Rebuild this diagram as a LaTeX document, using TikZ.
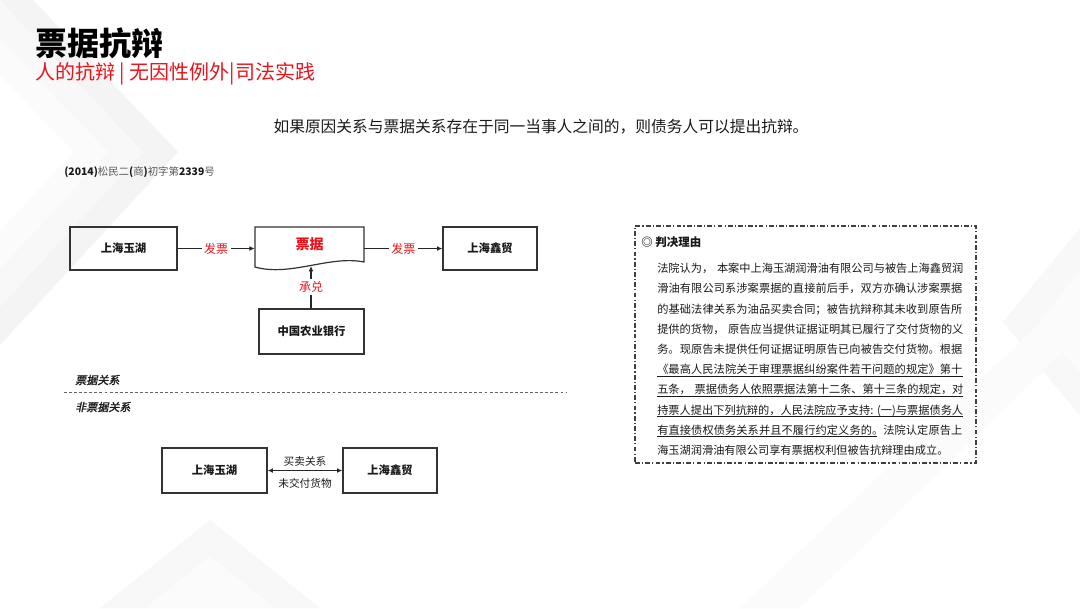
\documentclass[tikz,border=0pt]{standalone}
\usepackage{fontspec}
\setmainfont{Noto Sans CJK SC}
\newfontfamily\cjk{Noto Sans CJK SC}
\newfontfamily\cjkit[FakeSlant=0.2,FakeBold=1.5]{Noto Sans CJK SC}
\usetikzlibrary{arrows.meta}
\definecolor{jred}{HTML}{E8141B}
\definecolor{txt}{HTML}{1A1A1A}
\definecolor{bgA}{HTML}{F4F4F4}
\definecolor{bgB}{HTML}{F8F8F8}
\definecolor{bgC}{HTML}{FBFBFB}
\tikzset{
  entbox/.style={draw=black!80, line width=0.9pt, inner sep=0pt, text=txt,
    font=\cjk\bfseries\fontsize{8.5}{10}\selectfont},
  redlab/.style={font=\cjk\fontsize{9}{10}\selectfont, text=jred, fill=white, inner sep=2pt},
  arr/.style={line width=0.8pt, draw=black!85, -{Latex[length=4pt,width=3.6pt]}},
  darr/.style={line width=0.8pt, draw=black!85, {Latex[length=4pt,width=3.6pt]}-{Latex[length=4pt,width=3.6pt]}},
  smalllab/.style={font=\cjk\fontsize{8}{9}\selectfont, text=txt, inner sep=1pt},
  seclab/.style={font=\cjkit\fontsize{8.3}{9}\selectfont, anchor=west, inner sep=0pt, text=txt},
  divider/.style={line width=0.7pt, draw=black!60, dash pattern=on 2.2pt off 1.6pt},
  reasonbox/.style={draw=black!75, line width=0.8pt, inner sep=0pt,
    dash pattern=on 3.6pt off 1.6pt on 0.9pt off 1.6pt},
}
\begin{document}
\begin{tikzpicture}[x=0.75pt,y=-0.75pt]
\useasboundingbox (0,0) rectangle (1080,608);
\fill[white] (0,0) rectangle (1080,608);
% faint background chevrons
\begin{scope}
\clip (0,0) rectangle (1080,608);
\fill[bgA] (33,0) -- (178,152) -- (0,345) -- (0,0) -- cycle;
\fill[bgB] (0,0) -- (143,152) -- (-35,345) -- (-35,0) -- cycle;
\fill[bgC] (-37,0) -- (108,152) -- (-70,345) -- (-70,0) -- cycle;
\fill[white] (-72,0) -- (73,152) -- (-105,345) -- (-105,0) -- cycle;
\fill[bgB] (100,608) -- (210,520) -- (320,608) -- cycle;
\fill[bgC] (145,608) -- (210,556) -- (275,608) -- cycle;
\fill[bgB] (1080,228) -- (1003,322) -- (1080,416) -- cycle;
\fill[bgC] (1080,270) -- (1040,322) -- (1080,374) -- cycle;
\fill[bgC] (740,608) -- (1080,285) -- (1080,335) -- (800,608) -- cycle;
\end{scope}

% titles
\node[anchor=west, inner sep=0pt, text=black, font=\cjk\bfseries\fontsize{24}{26}\selectfont] (title) at (35,43) {票据抗辩};
\node[anchor=west, inner sep=0pt, text=jred, font=\cjk\fontsize{15}{17}\selectfont] (sub) at (35,74) {人的抗辩 | 无因性例外|司法实践};
\node[inner sep=0pt, text=txt, font=\cjk\fontsize{11.8}{13}\selectfont] (lead) at (541,127) {如果原因关系与票据关系存在于同一当事人之间的，则债务人可以提出抗辩。};
\node[anchor=west, inner sep=0pt, text=txt, font=\cjk\fontsize{7.8}{9}\selectfont] (case) at (64,172)
  {\textbf{(2014)}{\color{black!65}松民二}\textbf{(}{\color{black!65}商}\textbf{)}{\color{black!65}初字第}\textbf{2339}{\color{black!65}号}};

% upper diagram
\node[entbox, minimum width=80.25pt, minimum height=32.25pt] (a1) at (123.5,248.5) {上海玉湖};
\node[entbox, minimum width=70.5pt, minimum height=32.25pt] (a2) at (490,248.5) {上海鑫贸};
\node[entbox, minimum width=78.75pt, minimum height=33.75pt] (bank) at (311.5,331.5) {中国农业银行};
\draw[draw=black!80, line width=0.9pt] (255,267) -- (255,227) -- (364,227) -- (364,262)
   .. controls (330,255) and (290,277) .. (255,267) -- cycle;
\node[inner sep=0pt, minimum width=81.75pt, minimum height=26.25pt, text=jred,
      font=\cjk\bfseries\fontsize{10.5}{12}\selectfont] (doc) at (309.5,244.5) {票据};
\coordinate (docb) at (311,266);
\draw[arr] (a1.east) -- node[redlab]{发票} (a1.east -| doc.west);
\draw[arr] (doc.east |- a2.west) -- node[redlab]{发票} (a2.west);
\draw[arr] (bank.north -| docb) -- node[redlab]{承兑} (docb);

% divider
\node[seclab] (l1) at (75,380) {票据关系};
\coordinate (dl) at (64,392);
\coordinate (dr) at (567,392);
\draw[divider] (dl) -- (dr);
\node[seclab] (l2) at (75,407) {非票据关系};

% lower diagram
\node[entbox, minimum width=78.75pt, minimum height=33.75pt] (c1) at (214.5,470.5) {上海玉湖};
\node[entbox, minimum width=70.5pt, minimum height=33.75pt] (c2) at (390,470.5) {上海鑫贸};
\draw[darr] (c1.east) -- node[smalllab, above=1.5pt]{买卖关系} node[smalllab, below=4.5pt]{未交付货物} (c2.west);

% reasoning box
\node[reasonbox, minimum width=255.75pt, minimum height=177.75pt] (reason) at (805.5,344.5) {};
\node[anchor=west, inner sep=0pt, text=txt, font=\cjk\bfseries\fontsize{8.6}{10}\selectfont] (rtitle) at (641,242) {◎ 判决理由};
\node[anchor=north west, inner sep=0pt, text width=229.5pt, text=txt,
      font=\cjk\fontsize{8.4}{15.15}\selectfont] (para) at (657,263)
{\XeTeXlinebreaklocale "zh"\XeTeXlinebreakskip=0pt plus 2pt\XeTeXlinebreakpenalty=10000
\parindent=0pt\parfillskip=0pt\relax
法院认为，~本案中上海玉湖润滑油有限公司与被告上海鑫贸润\par
滑油有限公司系涉案票据的直接前后手，双方亦确认涉案票据\par
的基础法律关系为油品买卖合同；被告抗辩称其未收到原告所\par
提供的货物，~原告应当提供证据证明其已履行了交付货物的义\par
务。现原告未提供任何证据证明原告已向被告交付货物。根据\par
《最高人民法院关于审理票据纠纷案件若干问题的规定》第十\par
五条，~票据债务人依照票据法第十二条、第十三条的规定，对\par
持票人提出下列抗辩的，人民法院应予支持:~(一)与票据债务人\par
有直接债权债务关系并且不履行约定义务的。法院认定原告上\par
\parfillskip=0pt plus 1fil\relax
海玉湖润滑油有限公司享有票据权利但被告抗辩理由成立。\par};
\foreach \yy in {376,396,416} {\draw[line width=0.5pt, draw=txt] (657,\yy) -- (963,\yy);}
\draw[line width=0.5pt, draw=txt] (657,436) -- (877,436);
\end{tikzpicture}
\end{document}
